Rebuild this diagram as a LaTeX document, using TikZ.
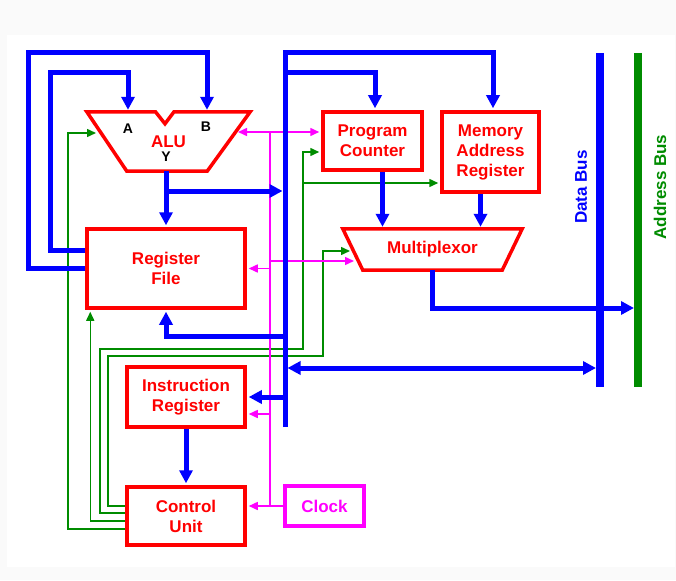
\documentclass[tikz,border=0pt]{standalone}
\usepackage{fontspec}
\setmainfont{Liberation Sans}
\usepackage{tikz}
\usetikzlibrary{
  arrows.meta,
  positioning
}
\definecolor{BusBlue}{RGB}{0,0,255}
\definecolor{UnitRed}{RGB}{255,0,0}
\definecolor{CtrlGreen}{RGB}{0,140,0}
\definecolor{ClockPink}{RGB}{255,0,255}
\definecolor{PageGray}{RGB}{250,250,250}
\newcommand{\cpufont}{\fontsize{17}{20}\selectfont\bfseries}
\newcommand{\portfont}{\fontsize{14}{16}\selectfont\bfseries}
\tikzset{
  unitbox/.style={draw=UnitRed,line width=3.5pt,text=UnitRed,align=center,font=\cpufont,inner sep=0pt},
  unitline/.style={draw=UnitRed,line width=3.5pt},
  unitlabel/.style={text=UnitRed,font=\cpufont,inner sep=0pt},
  portlabel/.style={text=black,font=\portfont,inner sep=0pt},
  busline/.style={draw=BusBlue,line width=5pt},
  busarrow/.style={-{Triangle[length=13pt,width=13pt]},busline,shorten >=2pt},
  widebus/.style={line width=8pt},
  ctrlarrow/.style={-{Triangle[length=9pt,width=8pt]},draw=CtrlGreen,line width=1.5pt,shorten >=2pt},
  clkline/.style={draw=ClockPink,line width=1.5pt},
  clkarrow/.style={-{Triangle[length=9pt,width=8pt]},clkline,shorten >=2pt}
}

\begin{document}
\begin{tikzpicture}[x=1pt,y=-1pt]
\fill[PageGray] (0,0) rectangle (676,580);
\fill[white] (7,35) rectangle (675,567);
\useasboundingbox (0,0) rectangle (676,580);

% units
\node[unitbox,minimum width=99,minimum height=58] (pc) at (372.5,141) {Program\\Counter};
\node[unitbox,minimum width=97,minimum height=80] (mar) at (490.5,152) {Memory\\Address\\Register};
\node[unitbox,minimum width=158,minimum height=79] (rf) at (166,268.5) {Register\\File};
\node[unitbox,minimum width=118,minimum height=60] (ir) at (186,397) {Instruction\\Register};
\node[unitbox,minimum width=118,minimum height=58] (cu) at (186,516) {Control\\Unit};
\node[unitbox,draw=ClockPink,text=ClockPink,minimum width=79,minimum height=40] (clock) at (324.5,506) {Clock};

% ALU
\node[unitlabel,minimum width=163,minimum height=59] (alu) at (168.5,141.5) {ALU};
\draw[unitline] (alu.north west) -- ([xshift=-13pt]alu.north) -- ([xshift=-3.5pt,yshift=-12pt]alu.north)
  -- ([xshift=5.5pt]alu.north) -- (alu.north east) -- ([xshift=-43pt]alu.south east)
  -- ([xshift=40pt]alu.south west) -- cycle;
\node[portlabel] (porta) at (128,129) {A};
\node[portlabel] (portb) at (206,127) {B};
\node[portlabel] (porty) at (166,157) {Y};
\coordinate (aluA) at ([xshift=-40.5pt]alu.north);
\coordinate (aluB) at ([xshift=38.5pt]alu.north);
\coordinate (aluL) at (98,133);
\coordinate (aluR) at (238,132);

% multiplexor
\node[unitlabel,minimum width=179,minimum height=41] (mux) at (432.5,249.5) {Multiplexor};
\draw[unitline] (mux.north west) -- (mux.north east) -- ([xshift=-20pt]mux.south east)
  -- ([xshift=20pt]mux.south west) -- cycle;
\coordinate (muxg) at (352,251);
\coordinate (muxc) at (356,261);

% system buses
\coordinate (dtop) at (600,53);
\coordinate (dbot) at (600,387);
\coordinate (atop) at (638,53);
\coordinate (abot) at (638,387);
\draw[busline,widebus] (dtop) -- (dbot);
\draw[draw=CtrlGreen,widebus] (atop) -- (abot);
\node[rotate=90,text=BusBlue,font=\cpufont] (dlabel) at (581,187) {Data Bus};
\node[rotate=90,text=CtrlGreen,font=\cpufont] (alabel) at (660,187) {Address Bus};

% control lines
\draw[ctrlarrow] ([yshift=10pt]cu.west) -| (108,356) -| (323,251) -- (muxg);
\draw[ctrlarrow] ([yshift=3pt]cu.west) -| (100,349) -| (303,152) -- ([yshift=-11pt]pc.west);
\coordinate (gmar) at (303,183);
\draw[ctrlarrow] (gmar) -- (gmar -| mar.west);
\draw[ctrlarrow] ([yshift=-5pt]cu.west) -| ([xshift=5pt]rf.south west);
\draw[ctrlarrow] ([yshift=-13pt]cu.west) -| (68,133) -- (aluL);

% clock lines
\coordinate (ctop) at (270,132);
\coordinate (cmux) at (270,261);
\coordinate (irclk) at ([yshift=-17pt]ir.east);
\draw[clkline] (ctop) -- (ctop |- clock.west);
\draw[clkarrow] (clock.west) -- (clock.west -| cu.east);
\draw[clkarrow,{Triangle[length=9pt,width=8pt]}-{Triangle[length=9pt,width=8pt]},shorten <=0pt] (aluR) -- (aluR -| pc.west);
\draw[clkarrow] (cmux) -- (muxc);
\draw[clkarrow] (rf.east -| ctop) -- (rf.east);
\draw[clkarrow] (irclk -| ctop) -- (irclk);

% internal bus
\coordinate (btop) at (285,53);
\coordinate (bbot) at (285,427);
\coordinate (bpc) at (285,73);
\coordinate (brf) at (285,336);
\coordinate (bdb) at (285,368);
\coordinate (lpa) at (50,73);
\coordinate (lpb) at (28,53);
\coordinate (ybr) at (166,191);
\coordinate (mab) at (638,308);
\draw[busarrow] (bbot) -- (btop) -| ([xshift=2.5pt]mar.north);
\draw[busarrow] (bpc) -| ([xshift=2.5pt]pc.north);
\draw[busarrow] (rf.west) -| (lpb) -| (aluB);
\draw[busarrow] ([yshift=18.5pt]rf.west) -| (lpa) -| (aluA);
\draw[busarrow] (alu.south -| rf.north) -- (rf.north);
\draw[busarrow,shorten >=2.5pt] (ybr) -- (ybr -| btop);
\draw[busarrow] ([xshift=10pt]pc.south) -- ([xshift=10pt]pc.south |- mux.north);
\draw[busarrow] ([xshift=-10pt]mar.south) -- ([xshift=-10pt]mar.south |- mux.north);
\draw[busarrow,shorten >=4pt] (mux.south) |- (mab);
\draw[busarrow,{Triangle[length=13pt,width=13pt]}-{Triangle[length=13pt,width=13pt]},shorten <=2.5pt,shorten >=4pt] (bdb) -- (bdb -| dtop);
\draw[busarrow] (brf) -| (rf.south);
\draw[busarrow] (ir.east -| btop) -- (ir.east);
\draw[busarrow] (ir.south) -- (cu.north);
\end{tikzpicture}
\end{document}
